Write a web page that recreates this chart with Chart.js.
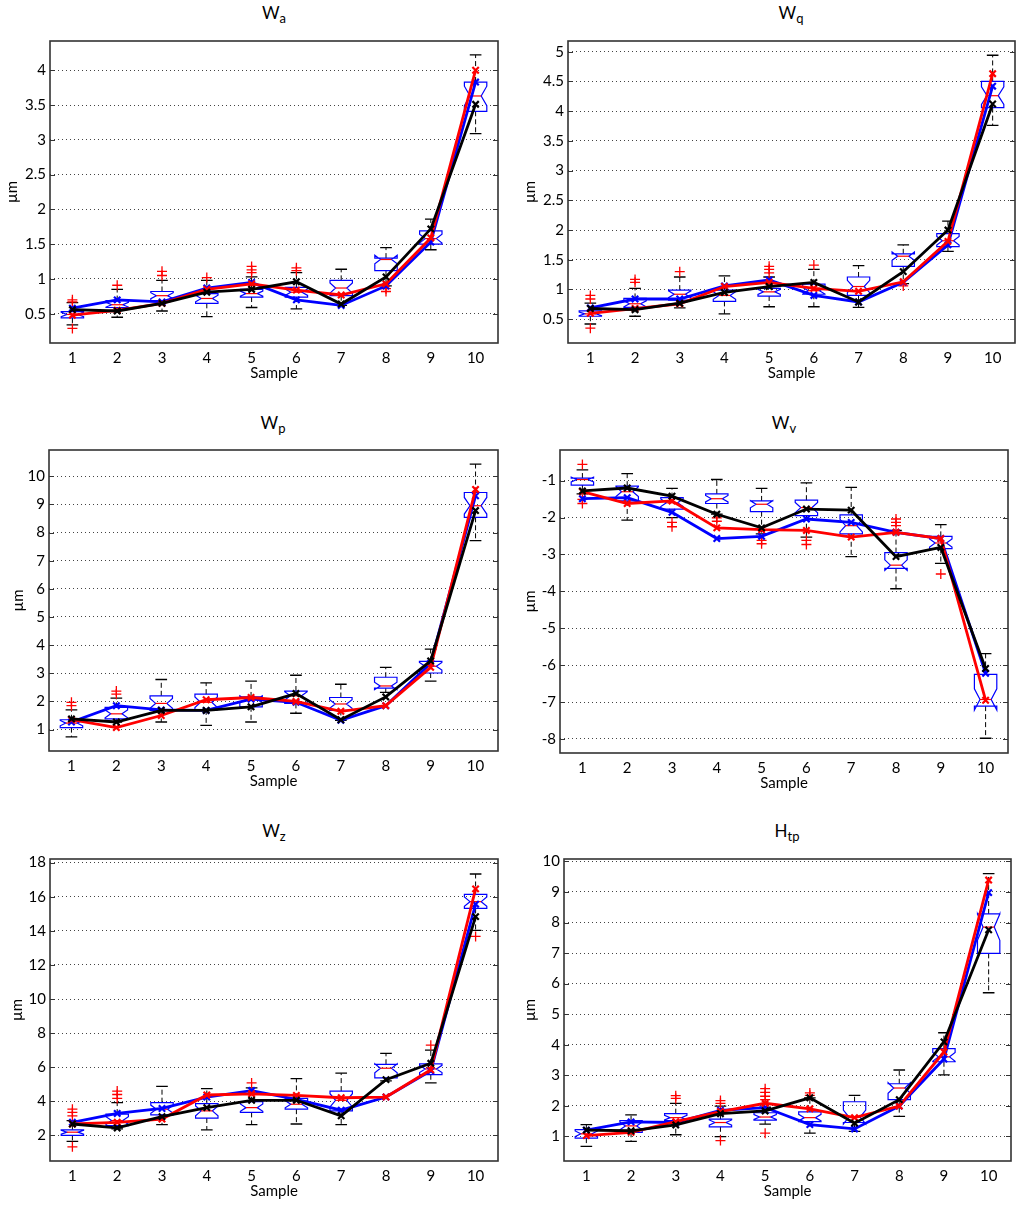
<!DOCTYPE html>
<html>
<head>
<meta charset="utf-8">
<script src="https://cdn.jsdelivr.net/npm/chart.js@4.4.0/dist/chart.umd.min.js"></script>
<style>
  body { margin: 0; background: #fff; width: 1024px; height: 1207px; position: relative; overflow: hidden; font-family: Lato, sans-serif; }
  canvas { position: absolute; }
  .ttl { position: absolute; font-size: 17px; line-height: 17px; transform: translateX(-50%); white-space: nowrap; color: #000; }
  .ttl sub { font-size: 13px; line-height: 0; }
</style>
</head>
<body>
<div class="ttl" style="left:274px;top:4px">W<sub>a</sub></div>
<div class="ttl" style="left:791px;top:4px">W<sub>q</sub></div>
<div class="ttl" style="left:273px;top:414px">W<sub>p</sub></div>
<div class="ttl" style="left:784px;top:414px">W<sub>v</sub></div>
<div class="ttl" style="left:274px;top:822px">W<sub>z</sub></div>
<div class="ttl" style="left:787px;top:822px">H<sub>tp</sub></div>

<canvas id="wa" width="512" height="358" style="left:0;top:28px"></canvas>
<canvas id="wq" width="512" height="358" style="left:512px;top:28px"></canvas>
<canvas id="wp" width="512" height="357" style="left:0;top:437px"></canvas>
<canvas id="wv" width="512" height="359" style="left:512px;top:437px"></canvas>
<canvas id="wz" width="512" height="358" style="left:0;top:846px"></canvas>
<canvas id="htp" width="512" height="358" style="left:512px;top:846px"></canvas>

<script>
// samples on the x axis
const samples = [1, 2, 3, 4, 5, 6, 7, 8, 9, 10];

// box rows: [lower whisker, q1, median, q3, upper whisker]
const waBox = [
  [0.34, 0.44, 0.49, 0.53, 0.66],
  [0.45, 0.59, 0.63, 0.69, 0.85],
  [0.54, 0.69, 0.76, 0.82, 0.98],
  [0.46, 0.65, 0.72, 0.79, 0.98],
  [0.59, 0.74, 0.79, 0.85, 1.03],
  [0.57, 0.74, 0.81, 0.88, 1.09],
  [0.62, 0.76, 0.87, 0.98, 1.14],
  [0.90, 1.12, 1.28, 1.30, 1.45],
  [1.42, 1.50, 1.58, 1.69, 1.86],
  [3.09, 3.41, 3.63, 3.83, 4.22]
];
const waOut = [[0.70, 0.67, 0.29], [0.91], [1.11, 1.05], [1.02], [1.18, 1.13, 1.09], [1.16, 1.12], [], [0.86, 0.82], [], []];
const waBlue = [0.58, 0.70, 0.67, 0.87, 0.95, 0.70, 0.62, 0.90, 1.53, 3.83];
const waRed = [0.48, 0.55, 0.65, 0.85, 0.93, 0.84, 0.77, 0.93, 1.59, 4.00];
const waBlack = [0.56, 0.54, 0.65, 0.81, 0.85, 0.96, 0.64, 1.03, 1.72, 3.51];
const waTicks = [0.5, 1, 1.5, 2, 2.5, 3, 3.5, 4];

const wqBox = [
  [0.42, 0.55, 0.59, 0.64, 0.77],
  [0.55, 0.70, 0.76, 0.85, 1.02],
  [0.69, 0.82, 0.92, 0.99, 1.21],
  [0.59, 0.80, 0.90, 0.99, 1.23],
  [0.71, 0.89, 0.96, 1.02, 1.21],
  [0.71, 0.92, 0.98, 1.09, 1.34],
  [0.70, 0.90, 1.05, 1.21, 1.40],
  [1.10, 1.39, 1.56, 1.60, 1.75],
  [1.64, 1.72, 1.82, 1.94, 2.15],
  [3.76, 4.06, 4.26, 4.50, 4.94]
];
const wqOut = [[0.90, 0.84, 0.35], [1.17, 1.12], [1.30], [], [1.39, 1.34, 1.28], [1.41], [], [1.06], [], []];
const wqBlue = [0.69, 0.84, 0.84, 1.06, 1.16, 0.90, 0.79, 1.12, 1.75, 4.42];
const wqRed = [0.60, 0.68, 0.76, 1.05, 1.12, 1.02, 0.97, 1.13, 1.81, 4.63];
const wqBlack = [0.68, 0.66, 0.77, 0.95, 1.05, 1.12, 0.79, 1.30, 2.00, 4.12];
const wqTicks = [0.5, 1, 1.5, 2, 2.5, 3, 3.5, 4, 4.5, 5];

const wpBox = [
  [0.74, 1.07, 1.23, 1.35, 1.70],
  [1.27, 1.38, 1.56, 1.79, 2.12],
  [1.27, 1.68, 1.93, 2.20, 2.78],
  [1.15, 1.70, 1.97, 2.26, 2.66],
  [1.27, 1.81, 2.08, 2.16, 2.72],
  [1.58, 1.93, 2.20, 2.37, 2.93],
  [1.33, 1.68, 1.91, 2.14, 2.61],
  [2.32, 2.47, 2.55, 2.86, 3.21],
  [2.72, 3.01, 3.25, 3.42, 3.86],
  [7.71, 8.54, 8.95, 9.42, 10.43]
];
const wpOut = [[1.97, 1.85], [2.37, 2.26], [], [], [], [], [], [], [], []];
const wpBlue = [1.27, 1.85, 1.70, 1.68, 2.08, 1.97, 1.33, 1.85, 3.36, 9.30];
const wpRed = [1.35, 1.07, 1.50, 2.06, 2.14, 2.00, 1.65, 1.85, 3.21, 9.53];
const wpBlack = [1.38, 1.27, 1.68, 1.68, 1.81, 2.28, 1.35, 2.16, 3.44, 8.78];
const wpTicks = [1, 2, 3, 4, 5, 6, 7, 8, 9, 10];

const wvBox = [
  [-1.36, -1.12, -0.97, -0.93, -0.71],
  [-2.07, -1.55, -1.30, -1.15, -0.81],
  [-2.00, -1.77, -1.60, -1.46, -1.21],
  [-1.91, -1.62, -1.49, -1.36, -0.97],
  [-2.44, -1.84, -1.64, -1.55, -1.21],
  [-2.53, -1.95, -1.73, -1.53, -1.06],
  [-3.06, -2.44, -2.22, -1.93, -1.18],
  [-3.93, -3.38, -3.29, -2.95, -2.35],
  [-3.24, -2.84, -2.69, -2.51, -2.19],
  [-7.98, -7.11, -6.93, -6.25, -5.69]
];
const wvOut = [[-0.56, -1.51, -1.62], [], [-2.13, -2.25], [-2.01, -2.10], [-2.62, -2.71], [-2.62, -2.73], [], [-2.04, -2.13, -2.22], [-3.53], []];
const wvBlue = [-1.49, -1.46, -1.86, -2.57, -2.51, -2.04, -2.13, -2.40, -2.57, -6.22];
const wvRed = [-1.30, -1.62, -1.55, -2.28, -2.33, -2.35, -2.53, -2.40, -2.57, -6.95];
const wvBlack = [-1.28, -1.20, -1.42, -1.91, -2.28, -1.77, -1.80, -3.06, -2.81, -6.09];
const wvTicks = [-8, -7, -6, -5, -4, -3, -2, -1];

const wzBox = [
  [1.65, 2.00, 2.19, 2.33, 2.87],
  [2.38, 2.58, 2.87, 3.25, 3.92],
  [2.63, 3.21, 3.54, 3.92, 4.88],
  [2.33, 3.02, 3.44, 3.87, 4.75],
  [2.63, 3.35, 3.63, 3.98, 4.79],
  [2.67, 3.54, 3.83, 4.17, 5.33],
  [2.63, 3.44, 4.06, 4.60, 5.65],
  [5.20, 5.37, 5.94, 6.17, 6.81],
  [5.08, 5.56, 5.90, 6.19, 7.00],
  [14.02, 15.31, 15.71, 16.13, 17.33]
];
const wzOut = [[3.54, 3.35, 3.15, 1.33], [4.60, 4.40, 4.17], [], [], [5.08], [], [], [], [7.29], [13.67]];
const wzBlue = [2.77, 3.29, 3.58, 4.25, 4.63, 4.12, 3.48, 4.25, 5.79, 15.56];
const wzRed = [2.67, 2.77, 2.96, 4.37, 4.44, 4.35, 4.21, 4.25, 5.85, 16.46];
const wzBlack = [2.67, 2.44, 3.10, 3.63, 4.06, 4.06, 3.15, 5.27, 6.23, 14.83];
const wzTicks = [2, 4, 6, 8, 10, 12, 14, 16, 18];

const htBox = [
  [0.67, 0.94, 1.08, 1.22, 1.38],
  [0.83, 1.13, 1.34, 1.51, 1.70],
  [1.05, 1.51, 1.61, 1.74, 2.08],
  [0.99, 1.31, 1.45, 1.56, 1.99],
  [1.40, 1.53, 1.63, 1.77, 1.95],
  [1.10, 1.48, 1.61, 1.80, 2.26],
  [1.16, 1.45, 1.63, 2.13, 2.34],
  [1.65, 2.20, 2.58, 2.72, 3.17],
  [3.01, 3.44, 3.60, 3.87, 4.39],
  [5.70, 6.99, 7.85, 8.28, 9.60]
];
const htOut = [[], [], [2.33, 2.24], [2.17, 2.08, 0.86], [2.56, 2.44, 2.31, 2.20, 1.10], [2.42, 2.34], [], [], [], []];
const htBlue = [1.20, 1.47, 1.45, 1.85, 1.94, 1.38, 1.24, 1.99, 3.53, 8.98];
const htRed = [1.02, 1.13, 1.48, 1.81, 2.08, 1.90, 1.61, 1.99, 3.76, 9.39];
const htBlack = [1.20, 1.18, 1.37, 1.74, 1.83, 2.26, 1.43, 2.20, 4.09, 7.76];
const htTicks = [1, 2, 3, 4, 5, 6, 7, 8, 9, 10];

// box geometry (in x units), notch like matlab: 1.57*IQR/sqrt(n)
const BOX_W = 0.5;
const CAP_W = 0.26;
const NOTCH_N = 22;
const NOTCH_INSET = 0.5;

Chart.defaults.font.family = 'Lato, sans-serif';
Chart.defaults.font.size = 15;
Chart.defaults.color = '#000';

function makeBoxes(boxes) {
  return {
    id: 'boxes',
    beforeDatasetsDraw(chart) {
      const { ctx, chartArea: a, scales: { x, y } } = chart;
      const Y = v => y.getPixelForValue(v);
      ctx.save();

      // axes frame + inner ticks
      ctx.strokeStyle = '#333';
      ctx.lineWidth = 1.6;
      ctx.strokeRect(a.left, a.top, a.right - a.left, a.bottom - a.top);
      ctx.lineWidth = 1;
      ctx.beginPath();
      y.ticks.forEach(t => {
        const py = Math.round(Y(t.value)) + 0.5;
        ctx.moveTo(a.left, py); ctx.lineTo(a.left + 5, py);
        ctx.moveTo(a.right - 5, py); ctx.lineTo(a.right, py);
      });
      ctx.stroke();

      boxes.forEach((b, i) => {
        const [lo, q1, med, q3, hi] = b;
        const cx = x.getPixelForValue(samples[i]);
        const hw = x.getPixelForValue(samples[i] + BOX_W / 2) - cx;
        const cw = x.getPixelForValue(samples[i] + CAP_W / 2) - cx;
        const nh = 1.57 * (q3 - q1) / Math.sqrt(NOTCH_N);

        // whiskers
        ctx.strokeStyle = '#000';
        ctx.lineWidth = 1;
        ctx.setLineDash([5, 3]);
        ctx.beginPath();
        ctx.moveTo(cx, Y(q3)); ctx.lineTo(cx, Y(hi));
        ctx.moveTo(cx, Y(q1)); ctx.lineTo(cx, Y(lo));
        ctx.stroke();
        ctx.setLineDash([]);
        ctx.lineWidth = 1.3;
        ctx.beginPath();
        ctx.moveTo(cx - cw, Y(hi)); ctx.lineTo(cx + cw, Y(hi));
        ctx.moveTo(cx - cw, Y(lo)); ctx.lineTo(cx + cw, Y(lo));
        ctx.stroke();

        // notched box
        const l = cx - hw, r = cx + hw, inset = hw * NOTCH_INSET;
        ctx.strokeStyle = '#0000ff';
        ctx.lineWidth = 1.2;
        ctx.beginPath();
        ctx.moveTo(l, Y(q1));
        ctx.lineTo(l, Y(med - nh));
        ctx.lineTo(l + inset, Y(med));
        ctx.lineTo(l, Y(med + nh));
        ctx.lineTo(l, Y(q3));
        ctx.lineTo(r, Y(q3));
        ctx.lineTo(r, Y(med + nh));
        ctx.lineTo(r - inset, Y(med));
        ctx.lineTo(r, Y(med - nh));
        ctx.lineTo(r, Y(q1));
        ctx.closePath();
        ctx.stroke();

        // median
        ctx.strokeStyle = '#ff0000';
        ctx.beginPath();
        ctx.moveTo(l + inset, Y(med)); ctx.lineTo(r - inset, Y(med));
        ctx.stroke();
      });
      ctx.restore();
    }
  };
}

const pts = arr => arr.map((v, i) => ({ x: samples[i], y: v }));
const outPts = out => out.flatMap((vs, i) => vs.map(v => ({ x: samples[i], y: v })));

function lineSet(data, color, order) {
  return {
    data: pts(data),
    borderColor: color,
    backgroundColor: color,
    borderWidth: 2.8,
    pointStyle: 'crossRot',
    pointRadius: 4.5,
    pointBorderWidth: 2.2,
    pointBorderColor: color,
    tension: 0,
    order: order
  };
}

function drawPanel(id, p) {
  new Chart(document.getElementById(id), {
    type: 'line',
    data: {
      datasets: [
        {
          data: outPts(p.out),
          showLine: false,
          pointStyle: 'cross',
          pointRadius: 5,
          pointBorderWidth: 1.3,
          borderColor: '#ff0000',
          backgroundColor: '#ff0000',
          order: 3
        },
        lineSet(p.blue, '#0000ff', 2),
        lineSet(p.red, '#ff0000', 1),
        lineSet(p.black, '#000000', 0)
      ]
    },
    options: {
      responsive: false,
      animation: false,
      layout: { padding: { left: 0, top: 8, right: p.padR, bottom: 0 } },
      plugins: { legend: { display: false }, tooltip: { enabled: false } },
      scales: {
        x: {
          type: 'linear',
          min: 0.5,
          max: 10.5,
          afterBuildTicks: s => { s.ticks = samples.map(v => ({ value: v })); },
          afterFit: s => { s.height = 43; },
          grid: { display: false, drawTicks: false },
          border: { display: false },
          ticks: { padding: 6, autoSkip: false, maxRotation: 0 },
          title: { display: true, text: 'Sample', padding: { top: 0, bottom: 4 } }
        },
        y: {
          type: 'linear',
          min: p.range[0],
          max: p.range[1],
          afterBuildTicks: s => { s.ticks = p.ticks.map(v => ({ value: v })); },
          afterFit: s => { s.width = p.yw; },
          grid: { color: '#444', lineWidth: 1, drawTicks: false },
          border: { display: false, dash: [1, 3] },
          ticks: { padding: 4, callback: v => String(v) },
          title: { display: true, text: 'µm', padding: { top: p.titlePad, bottom: 0 } }
        }
      }
    },
    plugins: [makeBoxes(p.box)]
  });
}

drawPanel('wa', { box: waBox, out: waOut, blue: waBlue, red: waRed, black: waBlack, ticks: waTicks, range: [0.08, 4.42], yw: 50, padR: 14, titlePad: 3 });
drawPanel('wq', { box: wqBox, out: wqOut, blue: wqBlue, red: wqRed, black: wqBlack, ticks: wqTicks, range: [0.10, 5.18], yw: 56, padR: 9, titlePad: 9 });
drawPanel('wp', { box: wpBox, out: wpOut, blue: wpBlue, red: wpRed, black: wpBlack, ticks: wpTicks, range: [0.24, 10.93], yw: 49, padR: 14, titlePad: 9 });
drawPanel('wv', { box: wvBox, out: wvOut, blue: wvBlue, red: wvRed, black: wvBlack, ticks: wvTicks, range: [-8.38, -0.17], yw: 48, padR: 16, titlePad: 9 });
drawPanel('wz', { box: wzBox, out: wzOut, blue: wzBlue, red: wzRed, black: wzBlack, ticks: wzTicks, range: [0.5, 18.21], yw: 50, padR: 14, titlePad: 8 });
drawPanel('htp', { box: htBox, out: htOut, blue: htBlue, red: htRed, black: htBlack, ticks: htTicks, range: [0.19, 10.08], yw: 52, padR: 13, titlePad: 9 });
</script>
</body>
</html>
